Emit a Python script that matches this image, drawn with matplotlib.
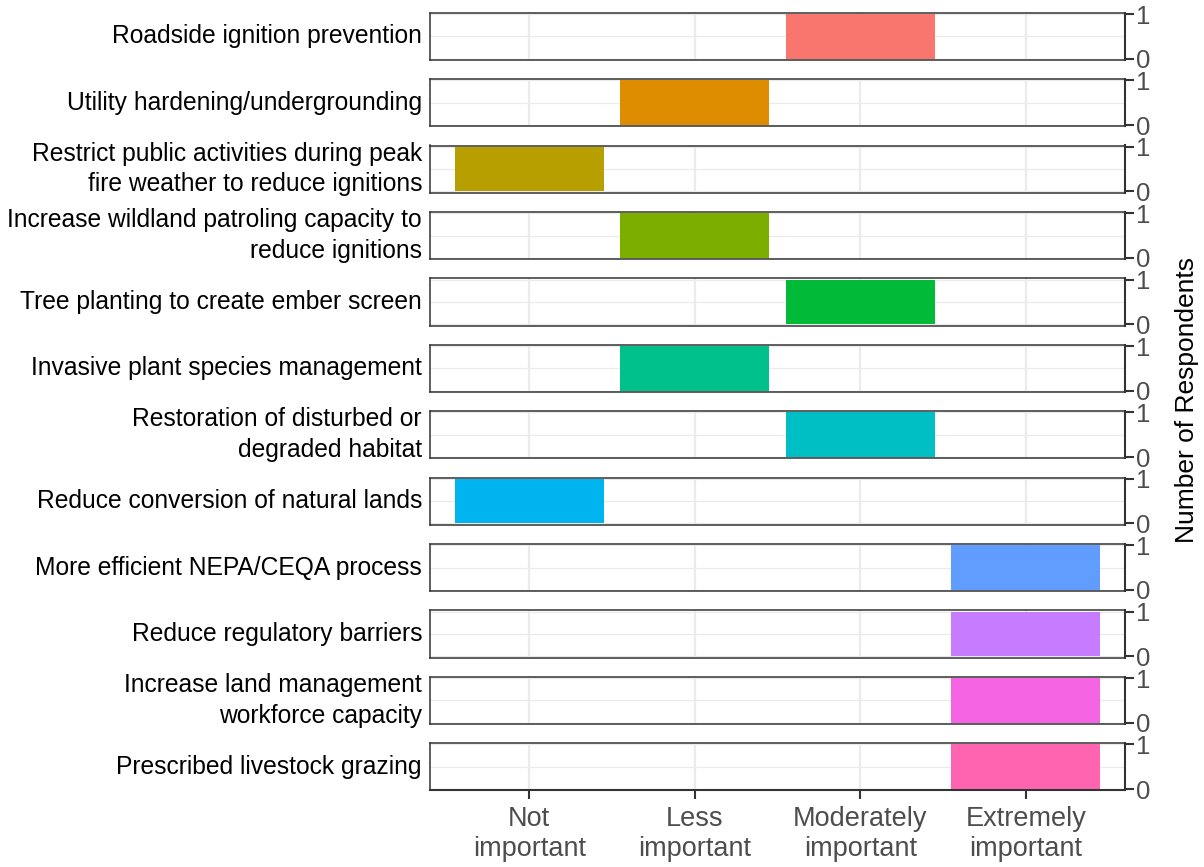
import matplotlib.pyplot as plt
import numpy as np

plt.rcParams['font.family'] = ['Liberation Sans', 'DejaVu Sans']

# one facet per measure, each with a single response
measures = [
    "Roadside ignition prevention",
    "Utility hardening/undergrounding",
    "Restrict public activities during peak\nfire weather to reduce ignitions",
    "Increase wildland patroling capacity to\nreduce ignitions",
    "Tree planting to create ember screen",
    "Invasive plant species management",
    "Restoration of disturbed or\ndegraded habitat",
    "Reduce conversion of natural lands",
    "More efficient NEPA/CEQA process",
    "Reduce regulatory barriers",
    "Increase land management\nworkforce capacity",
    "Prescribed livestock grazing",
]
importance_levels = ["Not\nimportant", "Less\nimportant", "Moderately\nimportant", "Extremely\nimportant"]
response = [3, 2, 1, 2, 3, 2, 3, 1, 4, 4, 4, 4]
counts = [1, 1, 1, 1, 1, 1, 1, 1, 1, 1, 1, 1]
colors = ["#F8766D", "#DE8C00", "#B79F00", "#7CAE00", "#00BA38", "#00C08B",
          "#00BFC4", "#00B4F0", "#619CFF", "#C77CFF", "#F564E3", "#FF64B0"]

W, H = 1204, 867
fig = plt.figure(figsize=(W / 100, H / 100), dpi=100)

left, right = 430, 1125
top0, ph, pitch = 12.7, 47.3, 66.4
border = "#333333"
grid = "#EBEBEB"

for i, name in enumerate(measures):
    top = top0 + i * pitch
    ax = fig.add_axes([left / W, 1 - (top + ph) / H, (right - left) / W, ph / H])
    ax.bar([response[i]], [counts[i]], width=0.9, color=colors[i], zorder=2)
    ax.set_xlim(0.4, 4.6)
    ax.set_ylim(-0.03, 1.03)
    ax.set_xticks(range(1, 5))
    ax.set_yticks([0, 1])
    ax.set_yticks([0.5], minor=True)
    ax.grid(True, which='major', axis='x', color=grid, linewidth=1.6, zorder=0)
    ax.grid(True, which='both', axis='y', color=grid, linewidth=0.9, zorder=0)
    ax.set_axisbelow(True)
    for s in ax.spines.values():
        s.set_color(border)
        s.set_linewidth(1.1)
    ax.spines['right'].set_linewidth(1.5)
    ax.yaxis.tick_right()
    ax.tick_params(axis='y', which='major', length=6.5, width=1.5, color=border,
                   labelsize=18.5, labelcolor='#4D4D4D', pad=1.5)
    ax.tick_params(axis='y', which='minor', length=0)
    if i == len(measures) - 1:
        ax.set_xticklabels(importance_levels, linespacing=1.2)
        ax.tick_params(axis='x', length=6.5, width=1.5, color=border,
                       labelsize=19.5, labelcolor='#4D4D4D', pad=5)
        ax.spines['bottom'].set_linewidth(1.5)
    else:
        ax.tick_params(axis='x', length=0, labelbottom=False)
    fig.text(422 / W, 1 - (top + ph / 2) / H, name, ha='right', va='center',
             fontsize=17.7, color='black', linespacing=1.35)

fig.text(1187 / W, 1 - 400 / H, "Number of Respondents", rotation=90,
         ha='center', va='center', fontsize=19, color='black')

fig.savefig("out.png", dpi=100)
